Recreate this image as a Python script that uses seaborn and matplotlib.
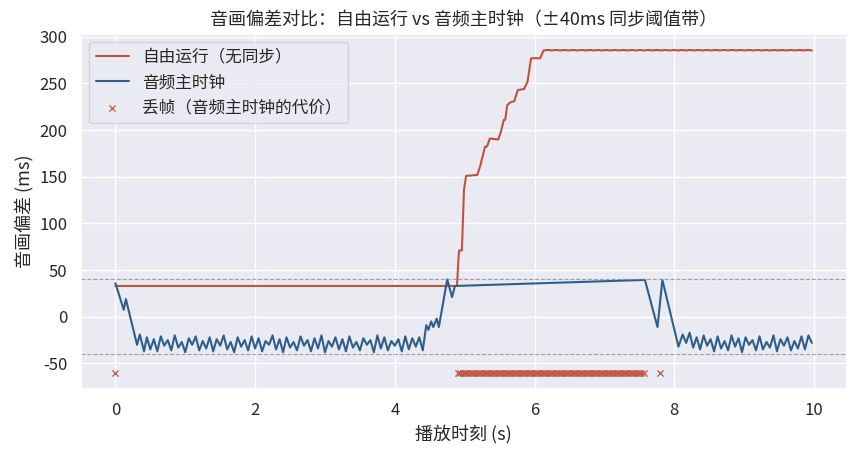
import numpy as np
import pandas as pd
import matplotlib
matplotlib.use('Agg')
import matplotlib.pyplot as plt
import seaborn as sns

sns.set_theme(style='darkgrid')
plt.rcParams['font.family'] = ['Noto Sans CJK SC', 'DejaVu Sans']
plt.rcParams['axes.unicode_minus'] = False

# 自由运行：偏差随时间累积
free_t = [0.00, 4.89, 4.91, 4.92, 4.96, 4.99, 5.02, 5.18, 5.22, 5.29, 5.32, 5.36,
          5.48, 5.52, 5.56, 5.58, 5.61, 5.66, 5.71, 5.76, 5.85, 5.90, 5.95, 6.08,
          6.13, 6.19, 6.25, 6.31, 6.37, 6.43, 6.49, 6.55, 6.61, 6.67, 6.73, 6.79,
          6.85, 6.91, 6.97, 7.03, 7.09, 7.15, 7.21, 7.27, 7.33, 7.39, 7.45, 7.51,
          7.57, 7.63, 7.69, 7.75, 7.81, 7.87, 7.93, 7.99, 8.05, 8.11, 8.17, 8.23,
          8.29, 8.35, 8.41, 8.47, 8.53, 8.59, 8.65, 8.71, 8.77, 8.83, 8.89, 8.95,
          9.01, 9.07, 9.13, 9.19, 9.25, 9.31, 9.37, 9.43, 9.49, 9.55, 9.61, 9.67,
          9.73, 9.79, 9.85, 9.91, 9.97]
free_ms = [33, 33, 61, 71, 71, 136, 151, 152, 161, 182, 182.5, 191,
           190, 198.6, 211, 211, 227, 230, 231, 243, 244, 252, 277, 277,
           285.4, 285.9, 285.4, 285.9, 285.4, 285.9, 285.4, 285.9, 285.4, 285.9, 285.4, 285.9,
           285.4, 285.9, 285.4, 285.9, 285.4, 285.9, 285.4, 285.9, 285.4, 285.9, 285.4, 285.9,
           285.4, 285.9, 285.4, 285.9, 285.4, 285.9, 285.4, 285.9, 285.4, 285.9, 285.4, 285.9,
           285.4, 285.9, 285.4, 285.9, 285.4, 285.9, 285.4, 285.9, 285.4, 285.9, 285.4, 285.9,
           285.4, 285.9, 285.4, 285.9, 285.4, 285.9, 285.4, 285.9, 285.4, 285.9, 285.4, 285.9,
           285.4, 285.9, 285.4, 285.9, 285.4]

# 音频主时钟：偏差被拉回阈值带内
master_t = [0.00, 0.12, 0.15, 0.31, 0.35, 0.41,
            0.45, 0.50, 0.55, 0.60, 0.65, 0.70, 0.75, 0.80, 0.85, 0.90,
            0.95, 1.00, 1.05, 1.10, 1.15, 1.20, 1.25, 1.30, 1.35, 1.40,
            1.45, 1.50, 1.55, 1.60, 1.65, 1.70, 1.75, 1.80, 1.85, 1.90,
            1.95, 2.00, 2.05, 2.10, 2.15, 2.20, 2.25, 2.30, 2.35, 2.40,
            2.45, 2.50, 2.55, 2.60, 2.65, 2.70, 2.75, 2.80, 2.85, 2.90,
            2.95, 3.00, 3.05, 3.10, 3.15, 3.20, 3.25, 3.30, 3.35, 3.40,
            3.45, 3.50, 3.55, 3.60, 3.65, 3.70, 3.75, 3.80, 3.85, 3.90,
            3.95, 4.00, 4.05, 4.10, 4.15, 4.20, 4.25, 4.30, 4.35, 4.40,
            4.45, 4.48, 4.52, 4.55, 4.60, 4.63, 4.75, 4.82, 4.86,
            7.58, 7.76, 7.83, 8.06,
            8.12, 8.17, 8.22, 8.27, 8.32, 8.37, 8.42, 8.47, 8.52, 8.57,
            8.62, 8.67, 8.72, 8.77, 8.82, 8.87, 8.92, 8.97, 9.02, 9.07,
            9.12, 9.17, 9.22, 9.27, 9.32, 9.37, 9.42, 9.47, 9.52, 9.57,
            9.62, 9.67, 9.72, 9.77, 9.82, 9.87, 9.92, 9.97]
master_ms = [36, 7.5, 19, -30, -19, -37,
             -22, -35, -24, -37, -21, -31, -25, -36, -20, -33,
             -27, -38, -23, -30, -21, -36, -26, -34, -22, -37,
             -24, -31, -20, -35, -27, -38, -22, -32, -25, -36,
             -21, -34, -23, -37, -26, -30, -20, -35, -24, -38,
             -22, -33, -27, -36, -21, -31, -25, -37, -23, -34,
             -20, -38, -26, -32, -22, -35, -24, -37, -21, -33,
             -27, -36, -23, -30, -25, -38, -20, -34, -22, -36,
             -26, -31, -24, -37, -21, -35, -23, -32, -22, -36,
             -9, -14, -5, -11, -2, -11, 40, 21, 33,
             39.5, -11, 39.5, -32,
             -19, -28, -17, -33, -22, -35, -20, -31, -24, -37,
             -21, -34, -26, -36, -20, -32, -23, -38, -22, -30,
             -25, -36, -21, -35, -27, -33, -20, -37, -24, -31,
             -22, -36, -26, -34, -21, -35, -20, -28]

# 丢帧时刻
drop_t = [0.00,
          4.90, 4.93, 4.97, 5.00, 5.03, 5.07, 5.10, 5.13, 5.17, 5.20,
          5.23, 5.27, 5.30, 5.33, 5.37, 5.40, 5.43, 5.47, 5.50, 5.53,
          5.57, 5.60, 5.63, 5.67, 5.70, 5.73, 5.77, 5.80, 5.83, 5.87,
          5.90, 5.93, 5.97, 6.00, 6.03, 6.07, 6.10, 6.13, 6.17, 6.20,
          6.23, 6.27, 6.30, 6.33, 6.37, 6.40, 6.43, 6.47, 6.50, 6.53,
          6.57, 6.60, 6.63, 6.67, 6.70, 6.73, 6.77, 6.80, 6.83, 6.87,
          6.90, 6.93, 6.97, 7.00, 7.03, 7.07, 7.10, 7.13, 7.17, 7.20,
          7.23, 7.27, 7.30, 7.33, 7.37, 7.40, 7.43, 7.47, 7.50, 7.53,
          7.57, 7.80]
drop_ms = [-60] * len(drop_t)

threshold = 40

free_df = pd.DataFrame({'t': free_t, 'ms': free_ms})
master_df = pd.DataFrame({'t': master_t, 'ms': master_ms})
drop_df = pd.DataFrame({'t': drop_t, 'ms': drop_ms})

fig, ax = plt.subplots(figsize=(8.57, 4.57), dpi=100)
sns.lineplot(data=free_df, x='t', y='ms', ax=ax, color='#c0533f', linewidth=1.5,
             estimator=None, label='自由运行（无同步）')
sns.lineplot(data=master_df, x='t', y='ms', ax=ax, color='#2e5f8c', linewidth=1.5,
             estimator=None, label='音频主时钟')
sns.scatterplot(data=drop_df, x='t', y='ms', ax=ax, color='#c0533f', marker='x',
                s=20, linewidth=0.9, label='丢帧（音频主时钟的代价）')
ax.axhline(threshold, color='grey', linestyle='--', linewidth=0.8, alpha=0.7)
ax.axhline(-threshold, color='grey', linestyle='--', linewidth=0.8, alpha=0.7)

ax.set_title('音画偏差对比：自由运行 vs 音频主时钟（±40ms 同步阈值带）', fontsize=13)
ax.set_xlabel('播放时刻 (s)', fontsize=13)
ax.set_ylabel('音画偏差 (ms)', fontsize=13)
ax.tick_params(labelsize=12)
ax.legend(loc='upper left', fontsize=12)

plt.subplots_adjust(left=0.094, right=0.988, top=0.926, bottom=0.149)
plt.savefig('out.png', dpi=100)
